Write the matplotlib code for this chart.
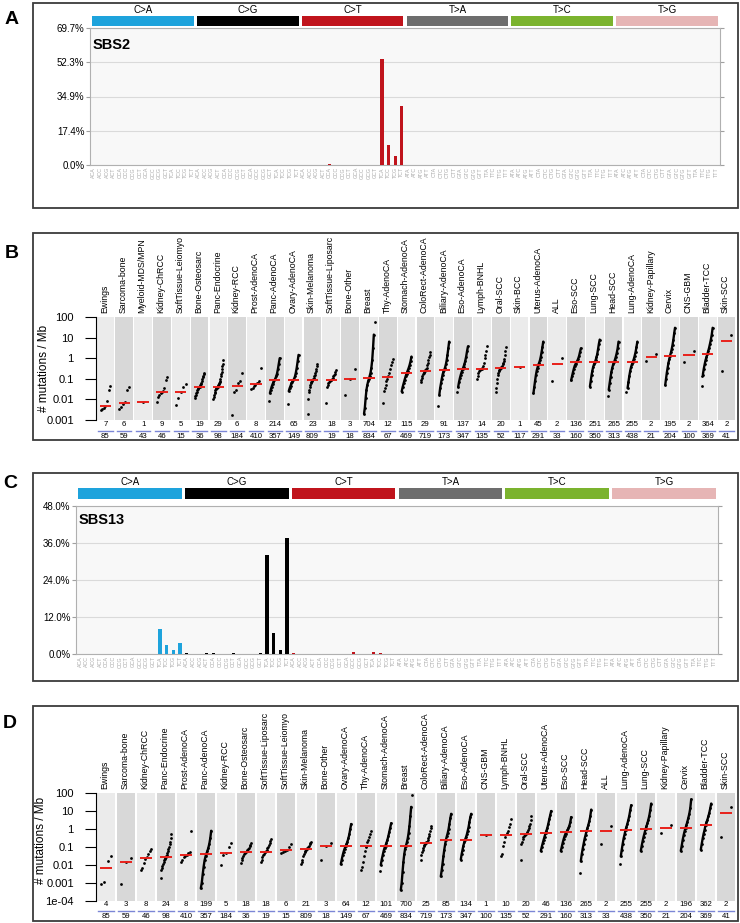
import numpy as np
import matplotlib
matplotlib.use("Agg")
import matplotlib.pyplot as plt
from matplotlib.patches import Rectangle
from matplotlib import transforms

plt.rcParams['font.family'] = ['Liberation Sans', 'DejaVu Sans']

W, H = 740, 923

# ---------------- data ----------------
groups = ["C>A", "C>G", "C>T", "T>A", "T>C", "T>G"]
group_colors = ["#1ea3dc", "#000000", "#c0141c", "#6d6d6d", "#7bb32e", "#e6b5b5"]

sbs2_keys = ["C[C>T]A", "T[C>T]A", "T[C>T]C", "T[C>T]G", "T[C>T]T"]
sbs2_pct = [0.3, 54.0, 10.0, 4.5, 30.0]

sbs13_keys = ["T[C>A]A", "T[C>A]C", "T[C>A]G", "T[C>A]T",
              "A[C>G]A", "A[C>G]T", "C[C>G]A", "C[C>G]T", "G[C>G]T",
              "T[C>G]A", "T[C>G]C", "T[C>G]G", "T[C>G]T",
              "A[C>T]A", "G[C>T]C", "T[C>T]A", "T[C>T]C"]
sbs13_pct = [8.0, 3.0, 1.2, 3.6,
             0.3, 0.3, 0.3, 0.4, 0.2,
             32.0, 6.7, 1.2, 37.5,
             0.3, 0.7, 0.6, 0.3]

b_cats = ["Ewings", "Sarcoma-bone", "Myeloid-MDS/MPN", "Kidney-ChRCC", "SoftTissue-Leiomyo",
          "Bone-Osteosarc", "Panc-Endocrine", "Kidney-RCC", "Prost-AdenoCA", "Panc-AdenoCA",
          "Ovary-AdenoCA", "Skin-Melanoma", "SoftTissue-Liposarc", "Bone-Other", "Breast",
          "Thy-AdenoCA", "Stomach-AdenoCA", "ColoRect-AdenoCA", "Biliary-AdenoCA", "Eso-AdenoCA",
          "Lymph-BNHL", "Oral-SCC", "Skin-BCC", "Uterus-AdenoCA", "ALL", "Eso-SCC", "Lung-SCC",
          "Head-SCC", "Lung-AdenoCA", "Kidney-Papillary", "Cervix", "CNS-GBM", "Bladder-TCC",
          "Skin-SCC"]
b_with = [7, 6, 1, 9, 5, 19, 29, 6, 8, 214, 65, 23, 18, 3, 704, 12, 115, 29, 91, 137,
          14, 20, 1, 45, 2, 136, 251, 265, 255, 2, 195, 2, 364, 2]
b_total = [85, 59, 43, 46, 15, 36, 98, 184, 410, 357, 149, 809, 19, 18, 834, 67, 469, 719,
           173, 347, 135, 52, 117, 291, 33, 160, 350, 313, 438, 21, 204, 100, 369, 41]
b_median = [0.0046, 0.0066, 0.0072, 0.023, 0.024, 0.038, 0.041, 0.046, 0.057, 0.083,
            0.083, 0.09, 0.09, 0.1, 0.108, 0.116, 0.19, 0.24, 0.27, 0.29,
            0.3, 0.32, 0.39, 0.48, 0.53, 0.62, 0.62, 0.64, 0.69, 1.2, 1.35, 1.45, 1.56, 7.1]
b_vals = [
    [0.0032, 0.0034, 0.0038, 0.0046, 0.008, 0.03, 0.046],
    [0.0034, 0.0045, 0.006, 0.0075, 0.03, 0.042],
    [0.0072],
    [0.0074, 0.013, 0.017, 0.02, 0.023, 0.027, 0.035, 0.09, 0.12],
    [0.0055, 0.012, 0.024, 0.042, 0.055],
    [0.012, 0.014, 0.017, 0.02, 0.024, 0.028, 0.032, 0.035, 0.038, 0.042, 0.048, 0.055,
     0.065, 0.08, 0.1, 0.12, 0.14, 0.17, 0.2],
    [0.01, 0.013, 0.016, 0.02, 0.024, 0.028, 0.031, 0.034, 0.037, 0.04, 0.041, 0.045, 0.05,
     0.055, 0.06, 0.07, 0.08, 0.1, 0.13, 0.17, 0.22, 0.3, 0.4, 0.55, 0.8],
    [0.0018, 0.022, 0.03, 0.06, 0.074, 0.2],
    [0.032, 0.037, 0.045, 0.052, 0.06, 0.065, 0.075, 0.32],
    [0.02, 0.03, 0.042, 0.055, 0.068, 0.083, 0.1, 0.13, 0.18, 0.3, 0.55, 1.0],
    [0.025, 0.035, 0.045, 0.06, 0.072, 0.083, 0.1, 0.13, 0.2, 0.35, 0.7, 1.45],
    [0.002, 0.01, 0.022, 0.03, 0.04, 0.05, 0.06, 0.07, 0.08, 0.09, 0.1, 0.11, 0.13, 0.16,
     0.2, 0.25, 0.3, 0.4, 0.55],
    [0.007, 0.04, 0.05, 0.06, 0.07, 0.08, 0.085, 0.09, 0.1, 0.11, 0.13, 0.15, 0.18, 0.22, 0.27],
    [0.016, 0.1, 0.29],
    [0.002, 0.004, 0.012, 0.03, 0.05, 0.075, 0.1, 0.14, 0.2, 0.35, 0.8, 3.0, 14.0],
    [0.0066, 0.025, 0.035, 0.05, 0.075, 0.1, 0.13, 0.19, 0.3, 0.45, 0.65, 0.9],
    [0.024, 0.04, 0.06, 0.09, 0.13, 0.18, 0.24, 0.32, 0.45, 0.7, 1.2],
    [0.07, 0.09, 0.11, 0.14, 0.17, 0.2, 0.22, 0.24, 0.27, 0.3, 0.35, 0.45, 0.6, 0.8, 1.1, 1.5, 2.0],
    [0.017, 0.035, 0.06, 0.1, 0.16, 0.22, 0.27, 0.35, 0.5, 0.8, 1.5, 3.0, 6.4],
    [0.04, 0.07, 0.11, 0.16, 0.22, 0.29, 0.38, 0.5, 0.75, 1.2, 2.2, 3.7],
    [0.1, 0.14, 0.19, 0.25, 0.28, 0.3, 0.31, 0.34, 0.4, 0.57, 1.0, 1.5, 2.2, 3.7],
    [0.022, 0.035, 0.062, 0.1, 0.15, 0.2, 0.24, 0.28, 0.3, 0.32, 0.34, 0.37, 0.42, 0.5, 0.6,
     0.75, 0.9, 1.4, 2.2, 3.5],
    [0.39],
    [0.02, 0.04, 0.08, 0.15, 0.25, 0.35, 0.48, 0.6, 0.8, 1.2, 2.0, 3.5, 6.4],
    [0.08, 1.0],
    [0.083, 0.13, 0.2, 0.3, 0.42, 0.52, 0.62, 0.75, 0.95, 1.3, 2.0, 3.0],
    [0.042, 0.08, 0.15, 0.25, 0.38, 0.5, 0.62, 0.8, 1.1, 1.6, 2.8, 5.0, 8.0],
    [0.029, 0.06, 0.12, 0.22, 0.35, 0.5, 0.64, 0.85, 1.2, 1.8, 3.0, 6.4],
    [0.035, 0.07, 0.14, 0.25, 0.38, 0.52, 0.69, 0.9, 1.3, 2.0, 3.5, 6.4],
    [0.74, 1.6],
    [0.05, 0.1, 0.2, 0.35, 0.6, 0.9, 1.35, 1.9, 2.8, 4.5, 8.0, 16.0, 30.0],
    [0.64, 2.26],
    [0.16, 0.3, 0.5, 0.8, 1.1, 1.56, 2.2, 3.2, 5.0, 8.0, 14.0, 30.0],
    [0.227, 14.0],
]
b_out = [[], [], [], [], [], [], [], [], [], [0.008], [0.006], [], [], [], [60.0],
         [], [], [], [0.0046], [0.023], [], [], [], [], [], [], [], [0.014], [0.024],
         [], [], [], [0.046, 0.13], []]

d_cats = ["Ewings", "Sarcoma-bone", "Kidney-ChRCC", "Panc-Endocrine", "Prost-AdenoCA",
          "Panc-AdenoCA", "Kidney-RCC", "Bone-Osteosarc", "SoftTissue-Liposarc",
          "SoftTissue-Leiomyo", "Skin-Melanoma", "Bone-Other", "Ovary-AdenoCA", "Thy-AdenoCA",
          "Stomach-AdenoCA", "Breast", "ColoRect-AdenoCA", "Biliary-AdenoCA", "Eso-AdenoCA",
          "CNS-GBM", "Lymph-BNHL", "Oral-SCC", "Uterus-AdenoCA", "Eso-SCC", "Head-SCC", "ALL",
          "Lung-AdenoCA", "Lung-SCC", "Kidney-Papillary", "Cervix", "Bladder-TCC", "Skin-SCC"]
d_with = [4, 3, 8, 24, 8, 199, 5, 18, 18, 6, 21, 3, 64, 12, 101, 700, 25, 85, 134, 1,
          10, 20, 46, 136, 265, 2, 255, 255, 2, 196, 362, 2]
d_total = [85, 59, 46, 98, 410, 357, 184, 36, 19, 15, 809, 18, 149, 67, 469, 834, 719, 173,
           347, 100, 135, 52, 291, 160, 313, 33, 438, 350, 21, 204, 369, 41]
d_median = [0.0072, 0.014, 0.025, 0.027, 0.035, 0.043, 0.047, 0.054, 0.054, 0.064, 0.08,
            0.108, 0.108, 0.108, 0.12, 0.12, 0.175, 0.26, 0.26, 0.44, 0.48, 0.52, 0.57,
            0.67, 0.74, 0.77, 0.88, 0.96, 1.09, 1.14, 1.6, 8.1]
d_vals = [
    [0.0009, 0.0012, 0.016, 0.03],
    [0.0009, 0.014, 0.025],
    [0.005, 0.007, 0.013, 0.022, 0.028, 0.04, 0.06, 0.08],
    [0.0018, 0.005, 0.007, 0.009, 0.012, 0.015, 0.018, 0.022, 0.025, 0.027, 0.03, 0.035,
     0.045, 0.06, 0.08, 0.1, 0.15, 0.2, 0.3, 0.5],
    [0.014, 0.02, 0.028, 0.033, 0.037, 0.045, 0.055, 0.73],
    [0.0005, 0.001, 0.003, 0.008, 0.018, 0.03, 0.043, 0.06, 0.09, 0.15, 0.3, 0.8],
    [0.01, 0.035, 0.047, 0.1, 0.17],
    [0.013, 0.018, 0.025, 0.032, 0.04, 0.045, 0.05, 0.054, 0.058, 0.065, 0.075, 0.09, 0.11,
     0.13, 0.17],
    [0.014, 0.02, 0.027, 0.035, 0.042, 0.05, 0.054, 0.06, 0.07, 0.085, 0.1, 0.13, 0.17, 0.22, 0.27],
    [0.045, 0.052, 0.06, 0.068, 0.1, 0.15],
    [0.011, 0.015, 0.02, 0.03, 0.04, 0.05, 0.06, 0.07, 0.08, 0.09, 0.1, 0.12, 0.14, 0.17, 0.2],
    [0.018, 0.108, 0.17],
    [0.011, 0.02, 0.035, 0.055, 0.08, 0.108, 0.14, 0.2, 0.3, 0.5, 1.0, 1.9],
    [0.005, 0.008, 0.015, 0.03, 0.06, 0.1, 0.12, 0.18, 0.25, 0.35, 0.5, 0.8],
    [0.01, 0.02, 0.035, 0.06, 0.09, 0.12, 0.17, 0.25, 0.4, 0.7, 1.2, 2.1],
    [0.0004, 0.001, 0.004, 0.015, 0.04, 0.08, 0.12, 0.18, 0.3, 0.6, 1.5, 5.0, 17.0],
    [0.02, 0.035, 0.05, 0.07, 0.09, 0.11, 0.13, 0.15, 0.17, 0.18, 0.2, 0.24, 0.3, 0.4, 0.55,
     0.8, 1.1, 1.5],
    [0.0023, 0.005, 0.012, 0.03, 0.07, 0.14, 0.26, 0.4, 0.6, 1.0, 2.0, 4.0, 7.0],
    [0.02, 0.04, 0.07, 0.12, 0.18, 0.26, 0.35, 0.5, 0.8, 1.3, 2.5, 4.5, 7.0],
    [0.44],
    [0.03, 0.04, 0.12, 0.2, 0.35, 0.6, 0.8, 1.3, 2.0, 3.7],
    [0.02, 0.14, 0.2, 0.28, 0.35, 0.42, 0.48, 0.52, 0.55, 0.6, 0.7, 0.85, 1.1, 1.5, 2.0, 3.0, 5.0],
    [0.06, 0.1, 0.16, 0.25, 0.38, 0.57, 0.8, 1.2, 2.0, 3.5, 6.0, 10.0],
    [0.06, 0.1, 0.17, 0.27, 0.4, 0.55, 0.67, 0.85, 1.1, 1.5, 2.3, 4.6],
    [0.016, 0.04, 0.08, 0.15, 0.28, 0.45, 0.74, 1.1, 1.7, 2.7, 5.0, 12.0],
    [0.14, 1.5],
    [0.03, 0.07, 0.15, 0.3, 0.5, 0.88, 1.3, 2.0, 3.2, 5.5, 11.0, 21.0],
    [0.06, 0.12, 0.22, 0.38, 0.6, 0.96, 1.4, 2.1, 3.3, 5.5, 11.0, 26.0],
    [0.57, 1.7],
    [0.06, 0.12, 0.25, 0.45, 0.75, 1.14, 1.7, 2.6, 4.2, 7.0, 14.0, 44.0],
    [0.07, 0.15, 0.3, 0.55, 0.9, 1.6, 2.3, 3.3, 5.0, 8.0, 14.0, 26.0],
    [0.37, 17.0],
]
d_out = [[], [], [], [], [], [], [], [], [], [], [], [], [], [], [0.0044], [78.0], [], [], [],
         [], [], [], [], [], [0.0037], [], [0.012], [], [], [], [], []]

b_ticklabels = ["100", "10", "1", "0.1", "0.01", "0.001"]
d_ticklabels = ["100", "10", "1", "0.1", "0.01", "0.001", "1e-04"]

# ---------------- helpers ----------------
fig = plt.figure(figsize=(W / 100, H / 100), dpi=100)


def fy(y):
    return 1 - y / H


def px_rect(x0, y0, x1, y1):
    return [x0 / W, 1 - y1 / H, (x1 - x0) / W, (y1 - y0) / H]


def panel_box(x0, y0, x1, y1, letter, lx, ly):
    fig.add_artist(Rectangle((x0 / W, fy(y1)), (x1 - x0) / W, (y1 - y0) / H,
                             transform=fig.transFigure, fill=False, ec="#3c3c3c", lw=1.3))
    fig.text(lx / W, fy(ly), letter, fontsize=14, fontweight="bold", ha="center", va="center")


contexts = []
for g in groups:
    for a in "ACGT":
        for c in "ACGT":
            contexts.append(a + "[" + g + "]" + c)


def sig_panel(rect, ymax, keys, pcts, name, name_y, strip_y0, strip_y1):
    ax = fig.add_axes(px_rect(*rect))
    heights = np.zeros(96)
    for k, p in zip(keys, pcts):
        heights[contexts.index(k)] = p
    cols = [group_colors[i // 16] for i in range(96)]
    ax.bar(np.arange(96), heights, width=0.5, color=cols, zorder=3)
    ax.set_xlim(-0.6, 95.6)
    ax.set_ylim(0, ymax)
    ticks = [ymax * i / 4 for i in range(5)]
    ax.set_yticks(ticks)
    ax.set_yticklabels(["%.1f%%" % t for t in ticks])
    ax.yaxis.grid(True, color="#dadada", lw=0.8, zorder=0)
    ax.set_facecolor("#f8f8f8")
    for s in ax.spines.values():
        s.set_color("#b0b0b0")
        s.set_linewidth(0.8)
    ax.tick_params(axis="y", left=True, right=True, length=3, color="#a0a0a0",
                   labelsize=7, pad=1)
    ax.set_xticks(np.arange(96))
    ax.set_xticklabels([k[0] + k[2] + k[6] for k in contexts], rotation=90,
                       fontsize=3.8, color="#a8a8a8")
    ax.tick_params(axis="x", length=0, pad=1.5)
    ax.text(0.004, name_y, name, transform=ax.transAxes, fontsize=10.5,
            fontweight="bold", va="center", ha="left")
    blend = transforms.blended_transform_factory(ax.transData, fig.transFigure)
    for g in range(6):
        x0 = 16 * g - 0.5 + 0.25
        ax.add_patch(Rectangle((x0, fy(strip_y1)), 15.5, (strip_y1 - strip_y0) / H,
                               transform=blend, color=group_colors[g], clip_on=False, lw=0))
        ax.text(16 * g + 7.5, fy(strip_y0 - 1), groups[g], transform=blend, ha="center",
                va="bottom", fontsize=7)
    return ax


def dot_panel(rect, cats, n_with, n_total, medians, vals, outs, ymin, ticklabels,
              label_y, count_y, ylab_x, ylab_y):
    ax = fig.add_axes(px_rect(*rect))
    n = len(cats)
    ax.set_xlim(0, n)
    ax.set_yscale("log")
    ax.set_ylim(ymin, 100)
    ax.patch.set_alpha(0)
    blend = transforms.blended_transform_factory(ax.transData, fig.transFigure)
    for i in range(n):
        ax.axvspan(i + 0.03, i + 0.97, color=["#ebebeb", "#d8d8d8"][i % 2], lw=0, zorder=0)
        body = vals[i]
        k = len(body)
        if k == 1:
            xs = [i + 0.5]
        else:
            xs = np.linspace(i + 0.24, i + 0.76, k)
        if n_with[i] >= 45:
            ax.plot(xs, body, color="k", lw=1.7, solid_capstyle="round", zorder=2)
        ax.plot(xs, body, "o", ms=2.0, mew=0, color="k", zorder=2)
        for o in outs[i]:
            ox = i + 0.18 if o < body[0] else i + 0.82
            ax.plot([ox], [o], "o", ms=2.0, mew=0, color="k", zorder=2)
        ax.plot([i + 0.2, i + 0.8], [medians[i], medians[i]], color="#e8201a", lw=1.4,
                zorder=3, solid_capstyle="butt")
        ax.text(i + 0.45, fy(label_y), cats[i], transform=blend, rotation=90, ha="center",
                va="bottom", fontsize=6.3)
        ax.text(i + 0.5, fy(count_y), str(n_with[i]), transform=blend, ha="center",
                va="center", fontsize=5.6)
        ax.plot([i + 0.12, i + 0.88], [fy(count_y + 5.5)] * 2, transform=blend,
                color="#7b86d6", lw=1.0, clip_on=False)
        ax.text(i + 0.5, fy(count_y + 11.5), str(n_total[i]), transform=blend, ha="center",
                va="center", fontsize=5.6)
    for s in ["top", "right", "bottom"]:
        ax.spines[s].set_visible(False)
    ax.spines["left"].set_linewidth(0.8)
    ax.set_xticks([])
    ax.set_yticks([10.0 ** (2 - j) for j in range(len(ticklabels))])
    ax.set_yticklabels(ticklabels)
    ax.minorticks_off()
    ax.tick_params(axis="y", length=8, width=0.8, labelsize=8, pad=8)
    fig.text(ylab_x / W, fy(ylab_y), "# mutations / Mb", rotation=90, ha="center",
             va="center", fontsize=8.5)
    return ax


# ---------------- panels ----------------
panel_box(33, 3, 738, 208, "A", 12, 20)
sig_panel((90, 28, 720, 165), 69.7, sbs2_keys, sbs2_pct, "SBS2", 0.875, 16, 26)

panel_box(33, 233, 738, 440, "B", 12, 253)
dot_panel((96, 317, 736, 420), b_cats, b_with, b_total, b_median, b_vals, b_out, 1e-3,
          b_ticklabels, 313, 425, 44, 368)

panel_box(33, 473, 738, 681, "C", 10, 483)
sig_panel((76, 506, 718, 654), 48.0, sbs13_keys, sbs13_pct, "SBS13", 0.905, 488, 499)

panel_box(33, 706, 738, 921, "D", 10, 724)
dot_panel((96, 793, 736, 901), d_cats, d_with, d_total, d_median, d_vals, d_out, 1e-4,
          d_ticklabels, 789, 905, 41, 840)

fig.savefig("out.png", dpi=100)
